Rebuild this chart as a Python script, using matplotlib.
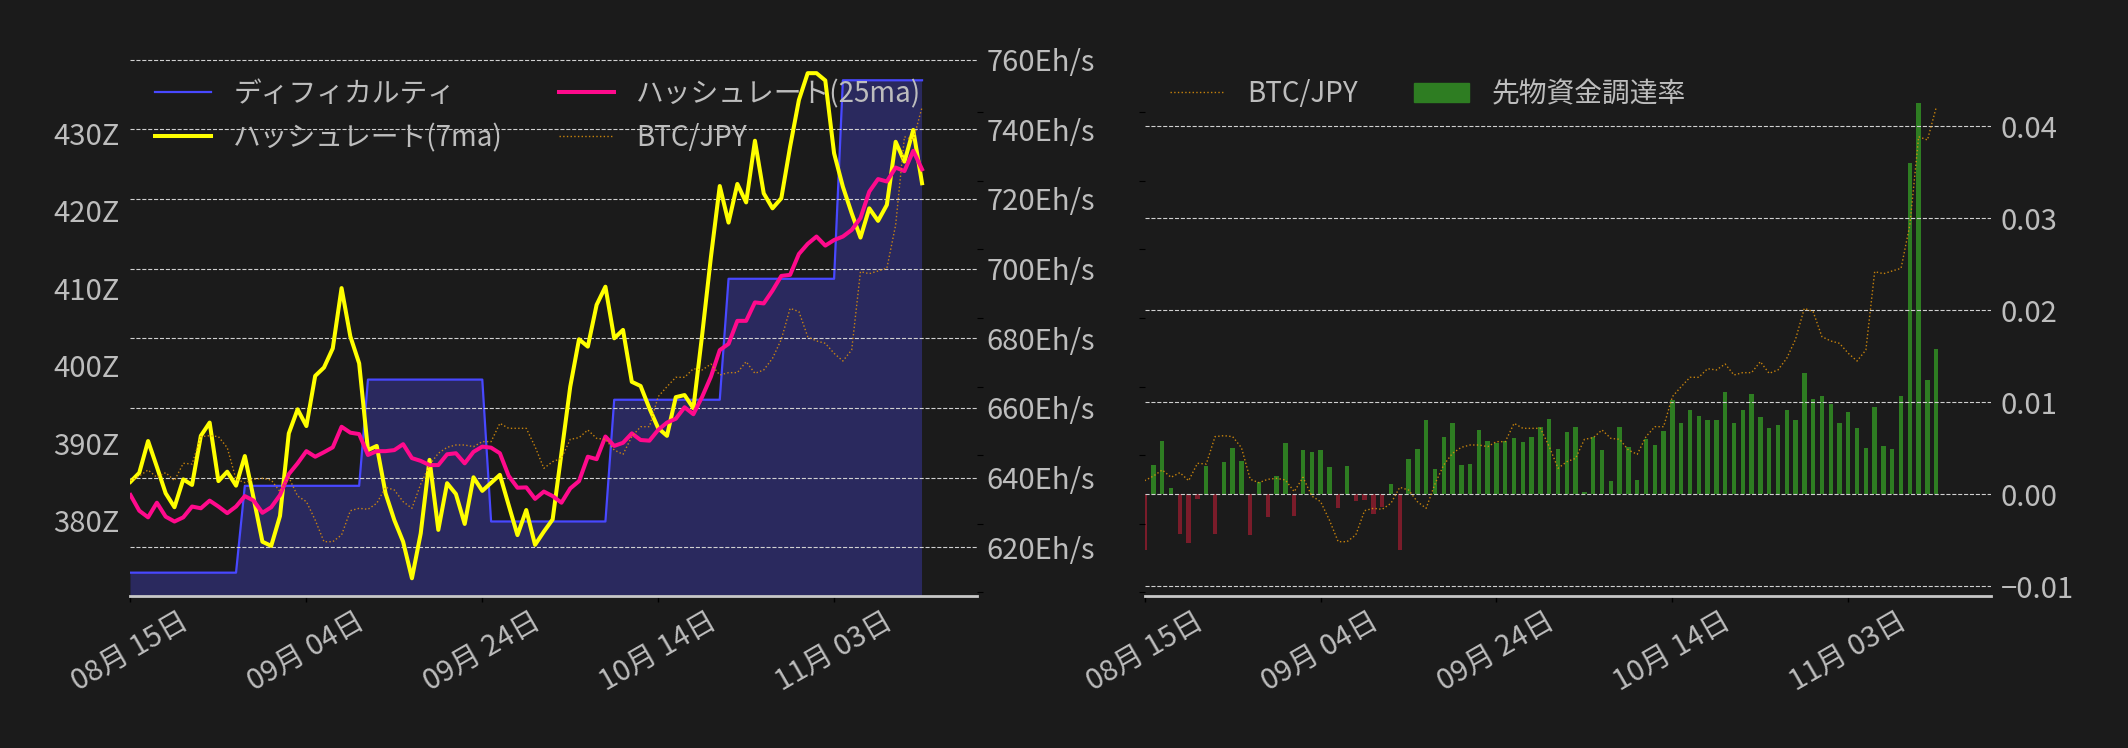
import matplotlib
matplotlib.use("Agg")
import matplotlib.pyplot as plt
import matplotlib.dates as mdates
from matplotlib.ticker import FixedLocator, FuncFormatter
from matplotlib.patches import Patch
import pandas as pd

plt.rcParams['font.family'] = ['Noto Sans CJK JP', 'DejaVu Sans']

BG = '#1b1b1b'
TXT = '#bdbdbd'

# ---------------- data ----------------
dates = pd.date_range("2024-08-15", periods=91, freq="D")
tick_dates = pd.to_datetime(["2024-08-15", "2024-09-04", "2024-09-24",
                             "2024-10-14", "2024-11-03"])
x_end = pd.Timestamp("2024-11-19 06:00")

# difficulty (Z hashes)
difficulty = [
    373.3, 373.3, 373.3, 373.3, 373.3, 373.3, 373.3, 373.3, 373.3, 373.3,
    373.3, 373.3, 373.3, 384.5, 384.5, 384.5, 384.5, 384.5, 384.5, 384.5,
    384.5, 384.5, 384.5, 384.5, 384.5, 384.5, 384.5, 398.2, 398.2, 398.2,
    398.2, 398.2, 398.2, 398.2, 398.2, 398.2, 398.2, 398.2, 398.2, 398.2,
    398.2, 379.9, 379.9, 379.9, 379.9, 379.9, 379.9, 379.9, 379.9, 379.9,
    379.9, 379.9, 379.9, 379.9, 379.9, 395.6, 395.6, 395.6, 395.6, 395.6,
    395.6, 395.6, 395.6, 395.6, 395.6, 395.6, 395.6, 395.6, 411.2, 411.2,
    411.2, 411.2, 411.2, 411.2, 411.2, 411.2, 411.2, 411.2, 411.2, 411.2,
    411.2, 436.8, 436.8, 436.8, 436.8, 436.8, 436.8, 436.8, 436.8, 436.8,
    436.8,
]

# hashrate 7-day MA (Eh/s)
hash7 = [
    638.8, 641.4, 650.5, 643.1, 635.5, 631.5, 639.5, 637.9, 652.0, 655.8,
    639.0, 641.7, 637.7, 646.2, 634.1, 621.6, 620.4, 629.0, 652.7, 659.6,
    654.8, 669.2, 671.6, 677.1, 694.4, 680.5, 672.8, 647.9, 649.1, 635.5,
    627.8, 621.6, 611.1, 624.0, 645.1, 625.0, 638.4, 635.3, 626.7, 640.1,
    636.2, 638.5, 640.8, 632.1, 623.5, 630.7, 620.7, 624.5, 628.0, 647.0,
    666.1, 679.7, 677.6, 689.6, 694.8, 680.0, 682.4, 667.5, 666.3, 659.9,
    654.2, 652.0, 663.1, 663.7, 659.9, 681.0, 703.4, 723.7, 713.2, 724.3,
    719.0, 736.7, 721.6, 717.3, 720.2, 735.0, 748.4, 756.1, 756.1, 754.0,
    733.1, 723.5, 715.9, 708.9, 717.3, 713.7, 718.3, 736.4, 730.7, 739.8,
    724.5,
]

# hashrate 25-day MA (Eh/s)
hash25 = [
    635.0, 630.5, 628.6, 632.8, 628.8, 627.4, 628.6, 631.7, 631.2, 633.4,
    631.7, 629.8, 631.7, 634.7, 633.4, 629.9, 631.5, 635.0, 641.0, 644.1,
    647.6, 646.0, 647.3, 648.7, 654.6, 652.9, 652.5, 646.5, 647.6, 647.6,
    647.9, 649.6, 645.6, 644.8, 643.6, 643.6, 646.7, 647.0, 644.1, 647.4,
    648.9, 648.6, 647.0, 640.5, 637.1, 637.2, 633.9, 636.0, 634.7, 632.8,
    636.9, 639.0, 646.0, 645.3, 651.8, 649.1, 650.0, 652.7, 650.8, 650.6,
    653.7, 655.8, 656.9, 660.2, 658.2, 663.2, 669.0, 676.6, 678.4, 685.0,
    685.0, 690.3, 690.0, 693.7, 697.9, 698.2, 704.2, 707.1, 709.2, 706.6,
    708.2, 709.2, 711.1, 714.5, 722.1, 725.7, 725.0, 729.0, 728.0, 733.8,
    728.5,
]

# BTC/JPY (yen)
btc_jpy = [
    8628000, 8696000, 8784000, 8677000, 8745000, 8628000, 8881000, 8871000, 9270000, 9284000,
    9270000, 9109000, 8648000, 8599000, 8648000, 8662000, 8638000, 8468000, 8677000, 8404000,
    8322000, 8054000, 7738000, 7738000, 7836000, 8190000, 8225000, 8210000, 8298000, 8531000,
    8492000, 8322000, 8225000, 8579000, 8857000, 9027000, 9114000, 9148000, 9148000, 9124000,
    9197000, 9197000, 9464000, 9391000, 9391000, 9391000, 9124000, 8808000, 8905000, 8954000,
    9231000, 9255000, 9367000, 9245000, 9231000, 9075000, 9012000, 9270000, 9415000, 9415000,
    9853000, 9999000, 10135000, 10135000, 10261000, 10242000, 10329000, 10169000, 10203000, 10203000,
    10363000, 10193000, 10242000, 10412000, 10689000, 11141000, 11093000, 10728000, 10665000, 10631000,
    10485000, 10373000, 10534000, 11676000, 11646000, 11686000, 11725000, 12357000, 13644000, 13596000,
    14073000,
]

# futures funding rate
funding = [
    -0.00601, 0.00319, 0.00580, 0.00069, -0.00428, -0.00525, -0.00047, 0.00308, -0.00428, 0.00351,
    0.00504, 0.00362, -0.00438, 0.00134, -0.00243, 0.00199, 0.00558, -0.00232, 0.00482, 0.00460,
    0.00482, 0.00297, -0.00145, 0.00308, -0.00069, -0.00058, -0.00210, -0.00134, 0.00112, -0.00601,
    0.00384, 0.00493, 0.00808, 0.00275, 0.00623, 0.00775, 0.00319, 0.00330, 0.00699, 0.00580,
    0.00558, 0.00580, 0.00612, 0.00569, 0.00623, 0.00732, 0.00819, 0.00493, 0.00678, 0.00732,
    0.00025, 0.00623, 0.00482, 0.00145, 0.00732, 0.00514, 0.00156, 0.00601, 0.00536, 0.00688,
    0.01025, 0.00775, 0.00917, 0.00851, 0.00808, 0.00808, 0.01112, 0.00775, 0.00917, 0.01091,
    0.00841, 0.00721, 0.00754, 0.00917, 0.00808, 0.01319, 0.01036, 0.01069, 0.00982, 0.00775,
    0.00895, 0.00721, 0.00504, 0.00949, 0.00525, 0.00493, 0.01069, 0.03601, 0.04253, 0.01243,
    0.01580,
]

diff_ticks = [380, 390, 400, 410, 420, 430]
hash_ticks = [620, 640, 660, 680, 700, 720, 740, 760]
btc_ticks = [7e6, 8e6, 9e6, 10e6, 11e6, 12e6, 13e6, 14e6]
fr_ticks = [-0.01, 0.00, 0.01, 0.02, 0.03, 0.04]

labels_left = ['ディフィカルティ', 'ハッシュレート(7ma)', 'ハッシュレート(25ma)', 'BTC/JPY']
labels_right = ['BTC/JPY', '先物資金調達率']

# ---------------- style ----------------
C_DIFF = '#4848ff'
C_FILL = '#2a295e'
C_H7 = '#ffff00'
C_H25 = '#ff0a8c'
C_BTC = '#d98e0b'
C_UP = '#2e7d22'
C_DN = '#7a1c2a'
GRID = '#d0d0d0'
TS = 21
LS = 20

fig = plt.figure(figsize=(21.28, 7.48), dpi=100, facecolor=BG)
pos_l = [0.06132, 0.20321, 0.3978, 0.7246]
pos_r = [0.53792, 0.20321, 0.3978, 0.7246]


def clean(ax):
    for s in ax.spines.values():
        s.set_visible(False)


def style_x(ax):
    ax.spines['bottom'].set_visible(True)
    ax.spines['bottom'].set_color('#c8c8c8')
    ax.spines['bottom'].set_linewidth(2.0)
    ax.set_xlim(dates[0], x_end)
    ax.xaxis.set_major_locator(FixedLocator(mdates.date2num(tick_dates)))
    ax.xaxis.set_major_formatter(mdates.DateFormatter('%m月 %d日'))
    ax.tick_params(axis='x', colors='black', labelcolor=TXT, labelsize=TS,
                   length=4, width=1, labelrotation=30)


# ---------------- left chart ----------------
ax_d = fig.add_axes(pos_l)
ax_d.set_facecolor(BG)
clean(ax_d)
ax_d.fill_between(dates, difficulty, 0, color=C_FILL, lw=0, zorder=1)
l_diff, = ax_d.plot(dates, difficulty, color=C_DIFF, lw=1.6, zorder=2)
ax_d.set_ylim(370.29, 440.19)
style_x(ax_d)

ax_h = ax_d.twinx()
clean(ax_h)
ax_h.set_ylim(606.02, 761.6)
ax_h.yaxis.set_major_locator(FixedLocator(hash_ticks))
ax_h.yaxis.set_major_formatter(FuncFormatter(lambda v, p: f"{v:.0f}Eh/s"))
ax_h.tick_params(axis='y', length=0, pad=7, labelcolor=TXT, labelsize=TS,
                 labelleft=False, labelright=True)
ax_h.grid(axis='y', ls='--', color=GRID, lw=0.8)
l_h7, = ax_h.plot(dates, hash7, color=C_H7, lw=2.9)
l_h25, = ax_h.plot(dates, hash25, color=C_H25, lw=2.9)

ax_b = ax_d.twinx()
clean(ax_b)
ax_b.set_ylim(6.946e6, 14.85e6)
ax_b.yaxis.set_major_locator(FixedLocator(btc_ticks))
ax_b.tick_params(axis='y', colors='black', length=4, width=0.8,
                 labelright=False, labelleft=False)
l_btc, = ax_b.plot(dates, btc_jpy, color=C_BTC, lw=1.0, ls=':', alpha=0.9)

# difficulty axis labels on the left (set after twins)
ax_d.yaxis.tick_left()
ax_d.yaxis.set_major_locator(FixedLocator(diff_ticks))
ax_d.yaxis.set_major_formatter(FuncFormatter(lambda v, p: f"{v:.0f}Z"))
ax_d.tick_params(axis='y', length=0, pad=8, labelcolor=TXT, labelsize=TS,
                 labelleft=True, labelright=False)

ax_b.legend([l_diff, l_h7, l_h25, l_btc], labels_left, loc='upper left', ncol=2,
            frameon=False, fontsize=LS, labelcolor=TXT)

# ---------------- right chart ----------------
ax_f = fig.add_axes(pos_r)
ax_f.set_facecolor(BG)
clean(ax_f)
bar_colors = [C_UP if v >= 0 else C_DN for v in funding]
ax_f.bar(dates, funding, width=0.5, color=bar_colors)
ax_f.set_ylim(-0.011054, 0.047859)
ax_f.grid(axis='y', ls='--', color=GRID, lw=0.8)
style_x(ax_f)

ax_fb = ax_f.twinx()
clean(ax_fb)
ax_fb.set_ylim(6.946e6, 14.85e6)
ax_fb.yaxis.set_major_locator(FixedLocator(btc_ticks))
ax_fb.yaxis.set_ticks_position('left')
ax_fb.tick_params(axis='y', colors='black', length=4, width=0.8,
                  labelright=False, labelleft=False)
r_btc, = ax_fb.plot(dates, btc_jpy, color=C_BTC, lw=1.0, ls=':', alpha=0.9)

# funding-rate labels on the right (set after twin)
ax_f.yaxis.set_ticks_position('right')
ax_f.yaxis.set_major_locator(FixedLocator(fr_ticks))
ax_f.yaxis.set_major_formatter(FuncFormatter(lambda v, p: f"{v:.2f}".replace('-', '\u2212')))
ax_f.tick_params(axis='y', length=0, pad=7, labelcolor=TXT, labelsize=TS,
                 labelleft=False, labelright=True)

ax_fb.legend([r_btc, Patch(color=C_UP)], labels_right, loc='upper left', ncol=2,
             frameon=False, fontsize=LS, labelcolor=TXT)

fig.savefig('out.png', dpi=100, facecolor=BG)
